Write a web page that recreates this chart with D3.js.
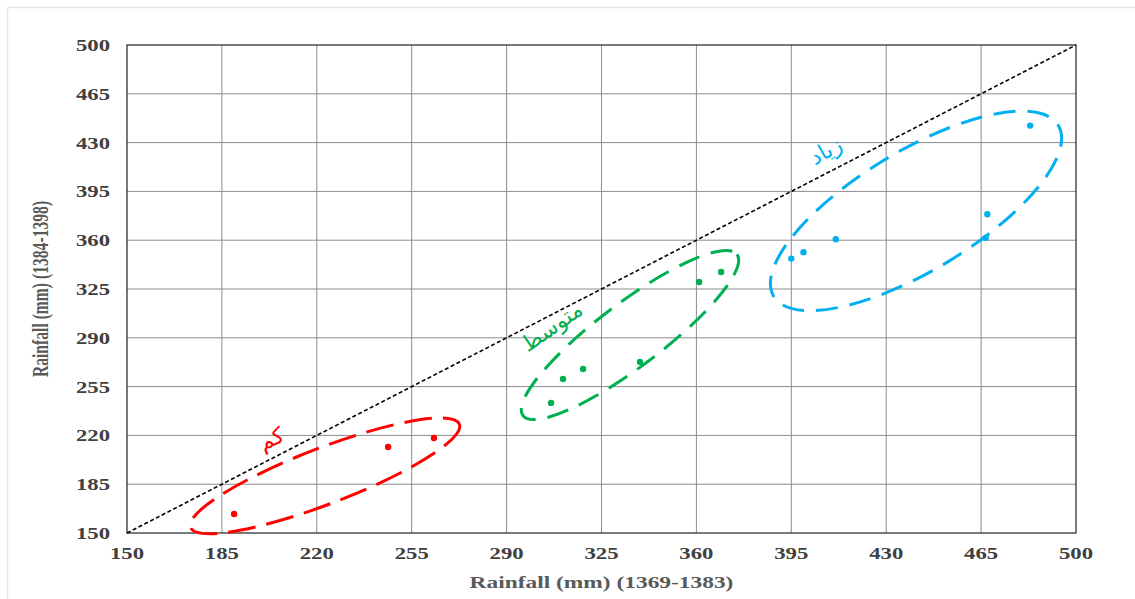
<!DOCTYPE html>
<html>
<head>
<meta charset="utf-8">
<script src="https://cdn.jsdelivr.net/npm/d3@7"></script>
<style>
  body { margin: 0; background: #fff; }
  svg { display: block; }
</style>
</head>
<body>
<svg width="1135" height="599"></svg>
<script>
// tick values (same on both axes)
const ticks = [150, 185, 220, 255, 290, 325, 360, 395, 430, 465, 500];

// rainfall pairs: x = 1369-1383, y = 1384-1398
const lowX = [189.5, 246.3, 263.2];
const lowY = [163.6, 211.7, 218.1];
const midX = [306.4, 310.8, 318.2, 339.2, 361.0, 369.1];
const midY = [243.3, 260.5, 267.6, 272.7, 330.0, 337.2];
const highX = [395.0, 399.5, 411.4, 466.7, 467.3, 483.1];
const highY = [346.8, 351.4, 360.7, 361.8, 378.6, 442.2];

const groupNames = ["کم", "متوسط", "زیاد"];
const groupColors = ["#ff0000", "#00b050", "#00b0f0"];
// cluster ellipse centres (data units)
const ellCx = [223, 335.5, 441];
const ellCy = [191, 292, 381];
// label anchors (data units)
const labX = [203.5, 307, 408];
const labY = [216.5, 297, 423];

const svg = d3.select("svg");
const margin = { left: 127, right: 59, top: 45, bottom: 66 };
const width = +svg.attr("width");
const height = +svg.attr("height");

const x = d3.scaleLinear().domain([150, 500]).range([margin.left, width - margin.right]);
const y = d3.scaleLinear().domain([150, 500]).range([height - margin.bottom, margin.top]);

// faint page border (top and left only)
svg.append("line").attr("x1", 7.5).attr("x2", width).attr("y1", 7.5).attr("y2", 7.5)
  .attr("stroke", "#e6e6e6").attr("stroke-width", 1.5);
svg.append("line").attr("x1", 7.5).attr("x2", 7.5).attr("y1", 7.5).attr("y2", height)
  .attr("stroke", "#e6e6e6").attr("stroke-width", 1.5);

const g = svg.append("g");

// grid
g.selectAll(".vgrid").data(ticks.slice(1, -1)).enter().append("line")
  .attr("x1", d => x(d)).attr("x2", d => x(d))
  .attr("y1", y(150)).attr("y2", y(500))
  .attr("stroke", "#8c8c8c").attr("stroke-width", 1);
g.selectAll(".hgrid").data(ticks.slice(1, -1)).enter().append("line")
  .attr("x1", x(150)).attr("x2", x(500))
  .attr("y1", d => y(d)).attr("y2", d => y(d))
  .attr("stroke", "#8c8c8c").attr("stroke-width", 1);

// frame
g.append("rect")
  .attr("x", x(150)).attr("y", y(500))
  .attr("width", x(500) - x(150)).attr("height", y(150) - y(500))
  .attr("fill", "none").attr("stroke", "#222").attr("stroke-width", 1.2);

// 1:1 line
g.append("line")
  .attr("x1", x(150)).attr("y1", y(150)).attr("x2", x(500)).attr("y2", y(500))
  .attr("stroke", "#000").attr("stroke-width", 1.6).attr("stroke-dasharray", "4,2.5");

// the source picture is stretched sideways, so the text is too
const tickFont = "'Liberation Serif', 'Times New Roman', serif";
const sx = 1.3, sy = 0.92;

g.selectAll(".xt").data(ticks).enter().append("text")
  .attr("transform", d => `translate(${x(d)},${y(150) + 26}) scale(${sx},${sy})`)
  .attr("text-anchor", "middle")
  .attr("font-family", tickFont).attr("font-weight", "bold").attr("font-size", 17.5)
  .attr("fill", "#404040")
  .text(d => d);
g.selectAll(".yt").data(ticks).enter().append("text")
  .attr("transform", d => `translate(${x(150) - 17},${y(d) + 6}) scale(${sx},${sy})`)
  .attr("text-anchor", "end")
  .attr("font-family", tickFont).attr("font-weight", "bold").attr("font-size", 17.5)
  .attr("fill", "#404040")
  .text(d => d);

// axis titles
svg.append("text")
  .attr("transform", `translate(${(x(150) + x(500)) / 2},588) scale(${sx},${sy})`)
  .attr("text-anchor", "middle")
  .attr("font-family", tickFont).attr("font-weight", "bold").attr("font-size", 18)
  .attr("fill", "#595959")
  .text("Rainfall (mm) (1369-1383)");
svg.append("text")
  .attr("transform", `translate(48,${(y(150) + y(500)) / 2}) rotate(-90) scale(${sy},${sx})`)
  .attr("text-anchor", "middle")
  .attr("font-family", tickFont).attr("font-weight", "bold").attr("font-size", 17)
  .attr("fill", "#595959")
  .text("Rainfall (mm) (1384-1398)");

// ellipses (pixel radii / tilt are styling)
const ellShape = [
  { rx: 144, ry: 28, rot: -21, dash: "28,11" },
  { rx: 134, ry: 32, rot: -37, dash: "22,12" },
  { rx: 166, ry: 60, rot: -31, dash: "22,12" }
];
ellShape.forEach((e, i) => {
  g.append("ellipse")
    .attr("transform", `translate(${x(ellCx[i])},${y(ellCy[i])}) rotate(${e.rot})`)
    .attr("rx", e.rx).attr("ry", e.ry)
    .attr("fill", "none")
    .attr("stroke", groupColors[i]).attr("stroke-width", 3)
    .attr("stroke-dasharray", e.dash);
});

// points
const groups = [[lowX, lowY], [midX, midY], [highX, highY]];
groups.forEach(([xs, ys], i) => {
  g.selectAll(".pt" + i).data(xs).enter().append("circle")
    .attr("cx", d => x(d))
    .attr("cy", (d, j) => y(ys[j]))
    .attr("r", 3.2)
    .attr("fill", groupColors[i]);
});

// group labels (Persian)
const labelRot = [-24, -35, -29];
groupNames.forEach((name, i) => {
  g.append("text")
    .attr("transform", `translate(${x(labX[i])},${y(labY[i])}) rotate(${labelRot[i]})`)
    .attr("text-anchor", "middle")
    .attr("dominant-baseline", "middle")
    .attr("font-family", "'Noto Sans', 'DejaVu Sans', sans-serif")
    .attr("font-size", 22)
    .attr("fill", groupColors[i])
    .text(name);
});
</script>
</body>
</html>
